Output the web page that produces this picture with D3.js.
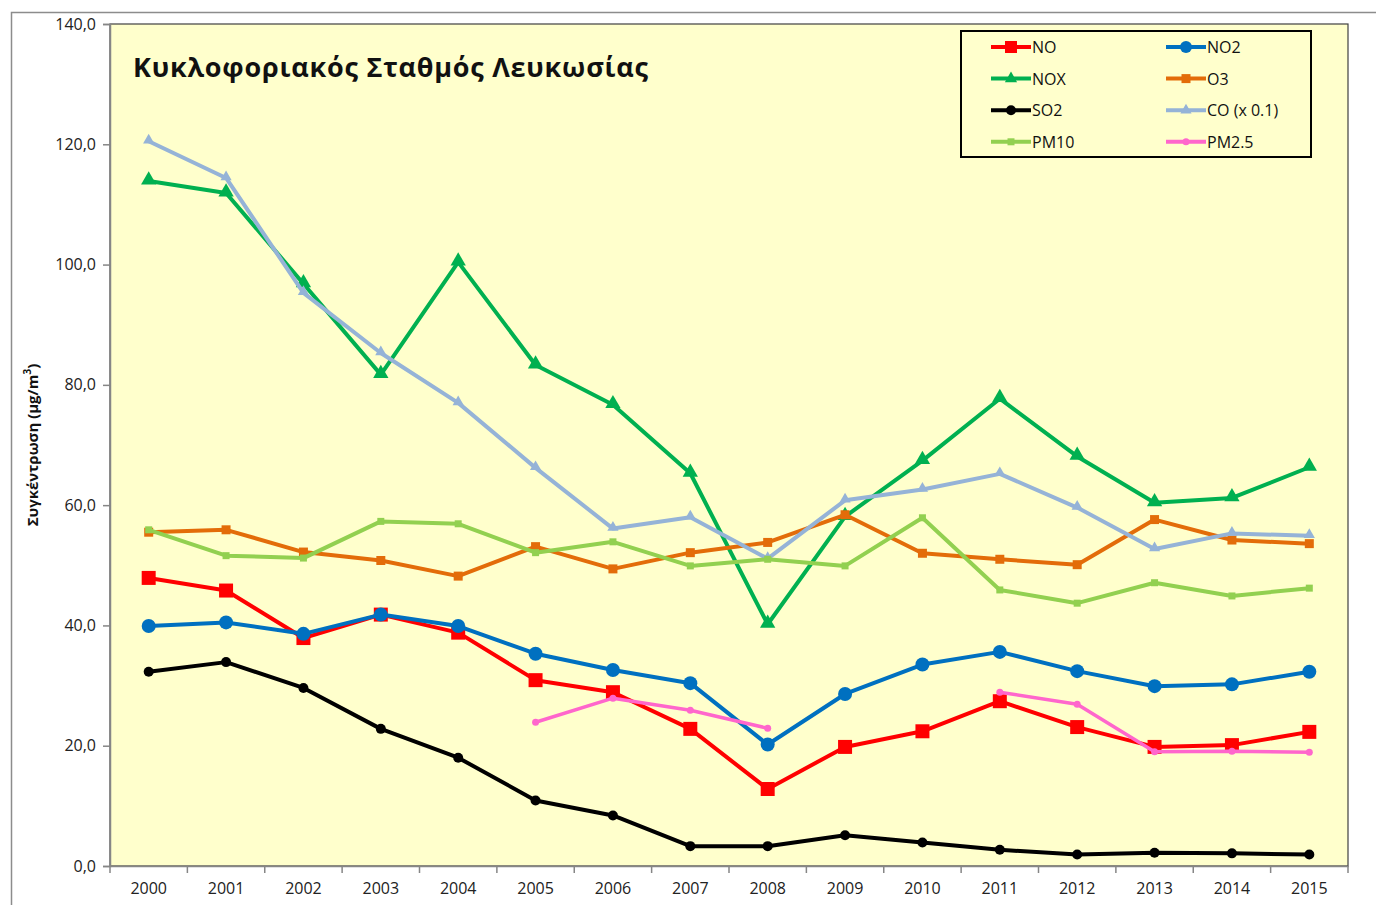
<!DOCTYPE html>
<html>
<head>
<meta charset="utf-8">
<script src="https://cdn.jsdelivr.net/npm/d3@7"></script>
<style>
  body { margin: 0; background: #fff; }
  text { font-family: "Open Sans", "Noto Sans", sans-serif; }
</style>
</head>
<body>
<div id="containerChart"></div>
<script>
// data
var years = ["2000","2001","2002","2003","2004","2005","2006","2007","2008","2009","2010","2011","2012","2013","2014","2015"];
var yTicks = [0, 20, 40, 60, 80, 100, 120, 140];

var NO    = [47.9, 45.8, 37.9, 41.8, 38.8, 30.9, 28.9, 22.8, 12.8, 19.8, 22.4, 27.4, 23.1, 19.8, 20.1, 22.3];
var NO2   = [39.9, 40.5, 38.6, 41.8, 39.9, 35.3, 32.6, 30.4, 20.2, 28.6, 33.5, 35.6, 32.4, 29.9, 30.2, 32.3];
var NOX   = [113.9, 111.9, 96.8, 81.7, 100.4, 83.3, 76.7, 65.3, 40.2, 58.1, 67.4, 77.7, 68.1, 60.4, 61.2, 66.3];
var O3    = [55.5, 55.9, 52.2, 50.8, 48.2, 53.1, 49.4, 52.1, 53.8, 58.4, 52.0, 51.0, 50.1, 57.6, 54.2, 53.6];
var SO2   = [32.3, 33.9, 29.6, 22.8, 18.0, 10.9, 8.4, 3.3, 3.3, 5.1, 3.9, 2.7, 1.9, 2.2, 2.1, 1.9];
var CO    = [120.5, 114.4, 95.3, 85.3, 77.0, 66.2, 56.1, 58.0, 51.1, 60.8, 62.6, 65.2, 59.6, 52.7, 55.3, 54.9];
var PM10  = [55.9, 51.6, 51.2, 57.3, 56.9, 52.1, 53.9, 49.9, 51.0, 49.9, 57.9, 45.9, 43.7, 47.1, 44.9, 46.2];
var PM25  = [null, null, null, null, null, 23.9, 27.9, 25.9, 22.9, null, null, 28.9, 26.9, 19.0, 19.1, 18.9];

var series = [
  { name: "NO",        values: NO,   color: "#FF0000", shape: "square",   size: 14, width: 4 },
  { name: "NO2",       values: NO2,  color: "#0070C0", shape: "circle",   size: 14, width: 4 },
  { name: "NOX",       values: NOX,  color: "#00B050", shape: "triangle", size: 15, width: 4 },
  { name: "O3",        values: O3,   color: "#E36C09", shape: "square",   size: 9,  width: 4 },
  { name: "SO2",       values: SO2,  color: "#000000", shape: "circle",   size: 10, width: 4 },
  { name: "CO (x 0.1)",values: CO,   color: "#95B3D7", shape: "triangle", size: 11, width: 4 },
  { name: "PM10",      values: PM10, color: "#92D050", shape: "square",   size: 7,  width: 4 },
  { name: "PM2.5",     values: PM25, color: "#FF66CC", shape: "circle",   size: 7,  width: 3.5 }
];

var W = 1376, H = 905;
var plot = { left: 110, right: 1348, top: 24, bottom: 866 };

var svg = d3.select("#containerChart")
  .append("svg")
  .attr("width", W)
  .attr("height", H);

// outer chart border
svg.append("rect")
  .attr("x", 11.5).attr("y", 12.5)
  .attr("width", 1400).attr("height", 1000)
  .attr("fill", "#fff")
  .attr("stroke", "#8c8c8c")
  .attr("stroke-width", 1.5);

var x = d3.scaleBand()
  .domain(years)
  .range([plot.left, plot.right]);

var y = d3.scaleLinear()
  .domain([0, 140])
  .range([plot.bottom, plot.top]);

// plot area
svg.append("rect")
  .attr("x", plot.left).attr("y", plot.top)
  .attr("width", plot.right - plot.left)
  .attr("height", plot.bottom - plot.top)
  .attr("fill", "#FFFFCC")
  .attr("stroke", "#404040")
  .attr("stroke-width", 1.2);

// y axis
var yAxis = svg.append("g")
  .attr("transform", "translate(" + plot.left + ",0)")
  .call(d3.axisLeft(y)
    .tickValues(yTicks)
    .tickSize(7)
    .tickPadding(7)
    .tickFormat(function (d) { return d3.format(".1f")(d).replace(".", ","); }));
yAxis.select(".domain").attr("stroke", "#868686").attr("stroke-width", 1.5);
yAxis.selectAll(".tick line").attr("stroke", "#868686").attr("stroke-width", 1.5);
yAxis.selectAll("text")
  .attr("font-size", 16)
  .attr("fill", "#222")
  .style("font-family", "'Open Sans', sans-serif");

// x axis (ticks between categories)
var xAxis = svg.append("g")
  .attr("transform", "translate(0," + plot.bottom + ")")
  .call(d3.axisBottom(x).tickSize(0).tickPadding(17));
xAxis.select(".domain").attr("stroke", "#868686").attr("stroke-width", 1.5);
xAxis.selectAll("text")
  .attr("font-size", 16)
  .attr("fill", "#222")
  .style("font-family", "'Open Sans', sans-serif");

var edges = years.map(function (d) { return x(d); }).concat([plot.right]);
svg.append("g").selectAll("line")
  .data(edges)
  .enter().append("line")
  .attr("x1", function (d) { return d; })
  .attr("x2", function (d) { return d; })
  .attr("y1", plot.bottom)
  .attr("y2", plot.bottom + 7)
  .attr("stroke", "#868686")
  .attr("stroke-width", 1.5);

// y axis title
svg.append("text")
  .attr("transform", "translate(38," + ((plot.top + plot.bottom) / 2) + ") rotate(-90)")
  .attr("text-anchor", "middle")
  .attr("font-size", 15)
  .attr("font-weight", "bold")
  .attr("fill", "#111")
  .text("Συγκέντρωση (μg/m")
  .append("tspan")
  .attr("baseline-shift", "super")
  .attr("font-size", 10)
  .text("3")
  .select(function () { return this.parentNode; })
  .append("tspan")
  .text(")");

// chart title
svg.append("text")
  .attr("x", 133)
  .attr("y", 77)
  .attr("font-size", 27)
  .attr("font-weight", "bold")
  .attr("fill", "#111")
  .attr("textLength", 515)
  .text("Κυκλοφοριακός Σταθμός Λευκωσίας");

function symbolFor(s) {
  var type = s.shape == "square" ? d3.symbolSquare
    : s.shape == "triangle" ? d3.symbolTriangle
    : d3.symbolCircle;
  var area;
  if (s.shape == "square") area = s.size * s.size;
  else if (s.shape == "circle") area = Math.PI * (s.size / 2) * (s.size / 2);
  else area = s.size * s.size * 0.45;
  return d3.symbol().type(type).size(area);
}

var line = d3.line()
  .defined(function (d) { return d != null; })
  .x(function (d, i) { return x(years[i]) + x.bandwidth() / 2; })
  .y(function (d) { return y(d); });

// series lines and markers
series.forEach(function (s) {
  var g = svg.append("g").attr("class", "series");
  g.append("path")
    .datum(s.values)
    .attr("d", line)
    .attr("fill", "none")
    .attr("stroke", s.color)
    .attr("stroke-width", s.width)
    .attr("stroke-linejoin", "round");

  var sym = symbolFor(s);
  g.selectAll("path.marker")
    .data(s.values.map(function (v, i) { return { v: v, i: i }; })
      .filter(function (d) { return d.v != null; }))
    .enter().append("path")
    .attr("class", "marker")
    .attr("d", sym)
    .attr("fill", s.color)
    .attr("transform", function (d) {
      var dy = s.shape == "triangle" ? -1 : 0;
      return "translate(" + (x(years[d.i]) + x.bandwidth() / 2) + "," + (y(d.v) + dy) + ")";
    });
});

// legend
var legendBox = { x: 961, y: 31, width: 350, height: 126 };
svg.append("rect")
  .attr("x", legendBox.x).attr("y", legendBox.y)
  .attr("width", legendBox.width).attr("height", legendBox.height)
  .attr("fill", "#FFFFCC")
  .attr("stroke", "#000")
  .attr("stroke-width", 2);

var legend = svg.selectAll("g.legend")
  .data(series)
  .enter().append("g")
  .attr("class", "legend")
  .attr("transform", function (d, i) {
    var col = i % 2, row = Math.floor(i / 2);
    return "translate(" + (991 + col * 175) + "," + (47 + row * 31.6) + ")";
  });

legend.append("line")
  .attr("x1", 0).attr("x2", 40)
  .attr("y1", 0).attr("y2", 0)
  .attr("stroke", function (d) { return d.color; })
  .attr("stroke-width", 4);

legend.append("path")
  .attr("d", function (d) {
    var s = Object.assign({}, d, { size: Math.min(d.size, 12) });
    return symbolFor(s)();
  })
  .attr("transform", "translate(20,0)")
  .attr("fill", function (d) { return d.color; });

legend.append("text")
  .attr("x", 41)
  .attr("y", 6)
  .attr("font-size", 16)
  .attr("fill", "#111")
  .text(function (d) { return d.name; });
</script>
</body>
</html>
